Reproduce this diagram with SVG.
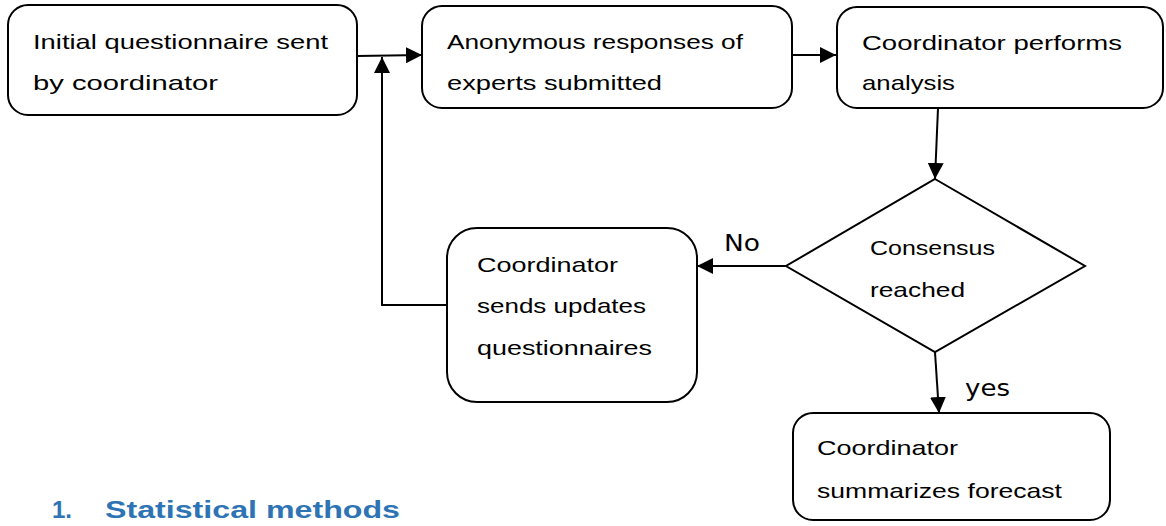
<svg xmlns="http://www.w3.org/2000/svg" width="1166" height="526" viewBox="0 0 1166 526">
<style>
.box{fill:#fff;stroke:#000;stroke-width:2}
.t{font-family:"Liberation Sans",Arial,sans-serif;font-size:21px;fill:#000}
.lbl{font-family:"DejaVu Sans",sans-serif;font-size:23px;fill:#000}
.c{fill:none;stroke:#000;stroke-width:2}
.h{font-family:"Liberation Sans",Arial,sans-serif;font-size:24px;font-weight:bold;fill:#2E74B5}
</style>
<defs>
<marker id="ah" markerUnits="userSpaceOnUse" markerWidth="16" markerHeight="16" viewBox="0 0 15 15" refX="15" refY="7.5" orient="auto">
<path d="M0,0 L15,7.5 L0,15 z" fill="#000"/>
</marker>
</defs>
<rect width="1166" height="526" fill="#fff"/>
<g id="n1">
<rect class="box" x="8" y="5" width="349" height="110" rx="20"/>
<text class="t" x="33" y="49" textLength="295" lengthAdjust="spacingAndGlyphs">Initial questionnaire sent</text>
<text class="t" x="33" y="90" textLength="185" lengthAdjust="spacingAndGlyphs">by coordinator</text>
</g>
<g id="n2">
<rect class="box" x="422" y="6" width="370" height="102" rx="20"/>
<text class="t" x="447" y="49" textLength="296" lengthAdjust="spacingAndGlyphs">Anonymous responses of</text>
<text class="t" x="447" y="90" textLength="215" lengthAdjust="spacingAndGlyphs">experts submitted</text>
</g>
<g id="n3">
<rect class="box" x="837" y="7" width="326" height="101" rx="20"/>
<text class="t" x="862" y="50" textLength="260" lengthAdjust="spacingAndGlyphs">Coordinator performs</text>
<text class="t" x="862" y="90" textLength="93" lengthAdjust="spacingAndGlyphs">analysis</text>
</g>
<g id="n4">
<polygon class="box" points="935,179 1085,266 935,352 786,266"/>
<text class="t" x="870" y="255" textLength="125" lengthAdjust="spacingAndGlyphs">Consensus</text>
<text class="t" x="870" y="297" textLength="95" lengthAdjust="spacingAndGlyphs">reached</text>
</g>
<g id="n5">
<rect class="box" x="447" y="228" width="250" height="174" rx="30"/>
<text class="t" x="477" y="272" textLength="141" lengthAdjust="spacingAndGlyphs">Coordinator</text>
<text class="t" x="477" y="313" textLength="169" lengthAdjust="spacingAndGlyphs">sends updates</text>
<text class="t" x="477" y="355" textLength="175" lengthAdjust="spacingAndGlyphs">questionnaires</text>
</g>
<g id="n6">
<rect class="box" x="793" y="413" width="317" height="107" rx="20"/>
<text class="t" x="817" y="455" textLength="141" lengthAdjust="spacingAndGlyphs">Coordinator</text>
<text class="t" x="817" y="498" textLength="245" lengthAdjust="spacingAndGlyphs">summarizes forecast</text>
</g>
<g id="connectors">
<line class="c" x1="357" y1="56" x2="422" y2="55" marker-end="url(#ah)"/>
<line class="c" x1="792" y1="55" x2="836" y2="55" marker-end="url(#ah)"/>
<line class="c" x1="938" y1="108" x2="935" y2="179" marker-end="url(#ah)"/>
<line class="c" x1="786" y1="266" x2="697" y2="266" marker-end="url(#ah)"/>
<line class="c" x1="935" y1="352" x2="939" y2="413" marker-end="url(#ah)"/>
<polyline class="c" points="447,305 382,305 382,57" marker-end="url(#ah)"/>
<text class="lbl" x="724" y="251" textLength="36" lengthAdjust="spacingAndGlyphs">No</text>
<text class="lbl" x="965" y="396" textLength="45" lengthAdjust="spacingAndGlyphs">yes</text>
</g>
<g id="heading">
<text class="h" x="52" y="518">1.</text>
<text class="h" x="105" y="518" textLength="295" lengthAdjust="spacingAndGlyphs">Statistical methods</text>
</g>
</svg>
